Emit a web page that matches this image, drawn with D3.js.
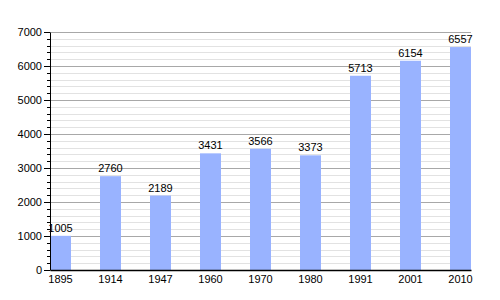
<!DOCTYPE html>
<html>
<head>
<meta charset="utf-8">
<script src="https://cdn.jsdelivr.net/npm/d3@7"></script>
<style>
  body { margin: 0; background: #fff; }
  text { font-family: "Liberation Sans", Arial, sans-serif; font-size: 11px; fill: #000; }
</style>
</head>
<body>
<div id="chart"></div>
<script>
const years = ["1895", "1914", "1947", "1960", "1970", "1980", "1991", "2001", "2010"];
const population = [1005, 2760, 2189, 3431, 3566, 3373, 5713, 6154, 6557];
const majorTicks = [0, 1000, 2000, 3000, 4000, 5000, 6000, 7000];
const minorTicks = d3.range(0, 7001, 200);

const width = 500, height = 300;
const margin = { top: 32, right: 29, bottom: 30, left: 50 };
const innerWidth = width - margin.left - margin.right;
const innerHeight = height - margin.top - margin.bottom;

const svg = d3.select("#chart").append("svg")
  .attr("width", width)
  .attr("height", height);
const g = svg.append("g")
  .attr("transform", `translate(${margin.left},${margin.top})`);

const x = d3.scaleBand()
  .domain(years)
  .range([0, innerWidth])
  .paddingInner(0.58)
  .paddingOuter(0)
  .align(0);

const y = d3.scaleLinear()
  .domain([0, 7000])
  .range([innerHeight, 0]);

// minor gridlines
g.selectAll(".minor-grid").data(minorTicks.filter(d => d % 1000 !== 0))
  .enter().append("line")
  .attr("x1", 0).attr("x2", innerWidth)
  .attr("y1", d => Math.round(y(d)) + 0.5).attr("y2", d => Math.round(y(d)) + 0.5)
  .attr("stroke", "#e2e2e2");

// major gridlines
g.selectAll(".major-grid").data(majorTicks.filter(d => d > 0))
  .enter().append("line")
  .attr("x1", 0).attr("x2", innerWidth)
  .attr("y1", d => Math.round(y(d)) + 0.5).attr("y2", d => Math.round(y(d)) + 0.5)
  .attr("stroke", "#a8a8a8");

// bars
g.selectAll(".bar").data(population)
  .enter().append("rect")
  .attr("x", (d, i) => x(years[i]))
  .attr("y", d => y(d))
  .attr("width", x.bandwidth())
  .attr("height", d => innerHeight - y(d))
  .attr("fill", "#99b3ff");

// value labels
g.selectAll(".bar-label").data(population)
  .enter().append("text")
  .attr("x", (d, i) => x(years[i]) + x.bandwidth() / 2)
  .attr("y", d => y(d) - 4)
  .attr("text-anchor", "middle")
  .text(d => d);

// y axis with minor ticks
g.selectAll(".minor-tick").data(minorTicks.filter(d => d % 1000 !== 0))
  .enter().append("line")
  .attr("x1", -3).attr("x2", 0)
  .attr("y1", d => Math.round(y(d)) + 0.5).attr("y2", d => Math.round(y(d)) + 0.5)
  .attr("stroke", "#000");

const yAxis = g.append("g")
  .call(d3.axisLeft(y).tickValues(majorTicks).tickSize(6).tickSizeOuter(0).tickFormat(d3.format("d")));
yAxis.select(".domain").attr("stroke", "#000");
yAxis.selectAll("text").style("font-size", "11px").attr("x", -8);

// x axis
const xAxis = g.append("g")
  .attr("transform", `translate(0,${innerHeight})`)
  .call(d3.axisBottom(x).tickSize(0).tickSizeOuter(0));
xAxis.select(".domain").attr("stroke", "#000").attr("stroke-width", 1.5);
xAxis.selectAll("text").style("font-size", "11px").attr("dy", "0.95em");
</script>
</body>
</html>
